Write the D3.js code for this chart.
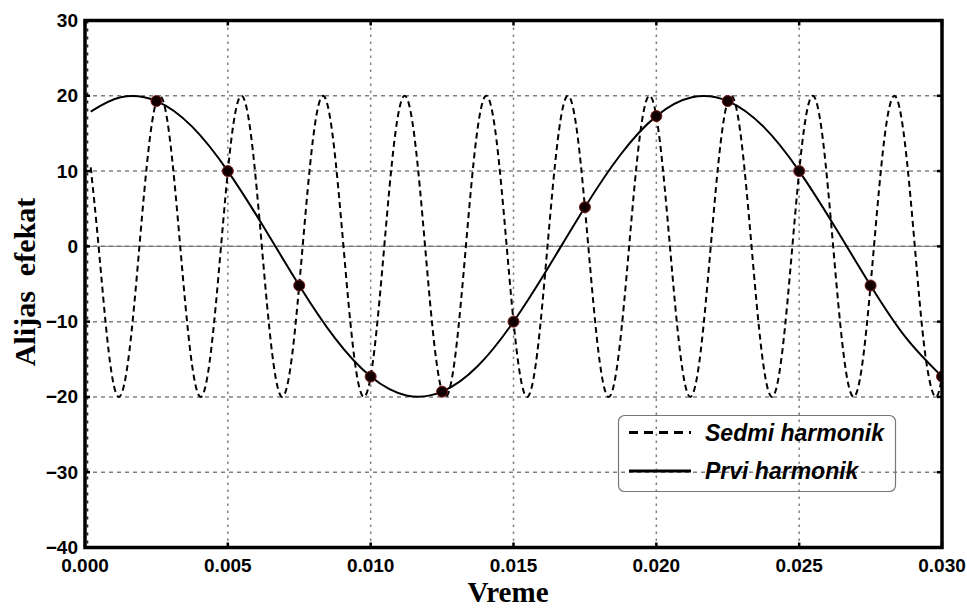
<!DOCTYPE html>
<html>
<head>
<meta charset="utf-8">
<script src="https://cdn.jsdelivr.net/npm/d3@7"></script>
<style>
  body { margin: 0; background: #fff; }
  svg { display: block; }
</style>
</head>
<body>
<svg id="chart" width="967" height="609"></svg>
<script>
// axis ticks
var xTicks = [0, 0.005, 0.010, 0.015, 0.020, 0.025, 0.030];
var yTicks = [-40, -30, -20, -10, 0, 10, 20, 30];

// first harmonic (solid)
var firstT = [0.0002, 0.00125, 0.0025, 0.00375, 0.005, 0.00625, 0.0075, 0.00875,
              0.010, 0.01125, 0.0125, 0.01375, 0.015, 0.01625, 0.0175, 0.01875,
              0.020, 0.02125, 0.0225, 0.02375, 0.025, 0.02625, 0.0275, 0.02875, 0.030];
var firstV = [17.9, 19.8, 19.3, 15.9, 10.0, 2.6, -5.2, -12.2,
              -17.3, -19.8, -19.3, -15.9, -10.0, -2.6, 5.2, 12.2,
              17.3, 19.8, 19.3, 15.9, 10.0, 2.6, -5.2, -12.2, -17.3];

// seventh harmonic (dashed), peaks / zeros / half points
var seventhT = [0.0002,
  0.000476, 0.000833, 0.00119,  0.001548, 0.001905, 0.002262, 0.002619, 0.002976,
  0.003333, 0.00369,  0.004048, 0.004405, 0.004762, 0.005119, 0.005476, 0.005833,
  0.00619,  0.006548, 0.006905, 0.007262, 0.007619, 0.007976, 0.008333, 0.00869,
  0.009048, 0.009405, 0.009762, 0.010119, 0.010476, 0.010833, 0.01119,  0.011548,
  0.011905, 0.012262, 0.012619, 0.012976, 0.013333, 0.01369,  0.014048, 0.014405,
  0.014762, 0.015119, 0.015476, 0.015833, 0.01619,  0.016548, 0.016905, 0.017262,
  0.017619, 0.017976, 0.018333, 0.01869,  0.019048, 0.019405, 0.019762, 0.020119,
  0.020476, 0.020833, 0.02119,  0.021548, 0.021905, 0.022262, 0.022619, 0.022976,
  0.023333, 0.02369,  0.024048, 0.024405, 0.024762, 0.025119, 0.025476, 0.025833,
  0.02619,  0.026548, 0.026905, 0.027262, 0.027619, 0.027976, 0.028333, 0.02869,
  0.029048, 0.029405, 0.029762,
  0.030];
var seventhV = [10.5,
  0, -14.1, -20, -14.1, 0, 14.1, 20, 14.1,
  0, -14.1, -20, -14.1, 0, 14.1, 20, 14.1,
  0, -14.1, -20, -14.1, 0, 14.1, 20, 14.1,
  0, -14.1, -20, -14.1, 0, 14.1, 20, 14.1,
  0, -14.1, -20, -14.1, 0, 14.1, 20, 14.1,
  0, -14.1, -20, -14.1, 0, 14.1, 20, 14.1,
  0, -14.1, -20, -14.1, 0, 14.1, 20, 14.1,
  0, -14.1, -20, -14.1, 0, 14.1, 20, 14.1,
  0, -14.1, -20, -14.1, 0, 14.1, 20, 14.1,
  0, -14.1, -20, -14.1, 0, 14.1, 20, 14.1,
  0, -14.1, -20,
  -17.3];

// sampled points (dots)
var sampleT = [0.0025, 0.005, 0.0075, 0.010, 0.0125, 0.015, 0.0175, 0.020, 0.0225, 0.025, 0.0275, 0.030];
var sampleV = [19.3, 10.0, -5.2, -17.3, -19.3, -10.0, 5.2, 17.3, 19.3, 10.0, -5.2, -17.3];

var seriesNames = ["Sedmi harmonik", "Prvi harmonik"];

var pLeft = 85, pRight = 942, pTop = 20.5, pBottom = 547.5;

var svg = d3.select("#chart");

var x = d3.scaleLinear().domain([0, 0.030]).range([pLeft, pRight]);
var y = d3.scaleLinear().domain([-40, 30]).range([pBottom, pTop]);

svg.append("defs").append("clipPath")
    .attr("id", "plotclip")
    .append("rect")
    .attr("x", pLeft).attr("y", pTop)
    .attr("width", pRight - pLeft).attr("height", pBottom - pTop);

// grid
var grid = svg.append("g");
grid.selectAll("line.vg")
    .data(xTicks)
    .enter().append("line")
    .attr("class", "vg")
    .attr("x1", function(d) { return x(d); })
    .attr("x2", function(d) { return x(d); })
    .attr("y1", pTop).attr("y2", pBottom)
    .style("stroke", "#808080")
    .style("stroke-width", 1.5)
    .style("stroke-dasharray", "2.5,4.5");

grid.selectAll("line.hg")
    .data(yTicks)
    .enter().append("line")
    .attr("class", "hg")
    .attr("x1", pLeft).attr("x2", pRight)
    .attr("y1", function(d) { return y(d); })
    .attr("y2", function(d) { return y(d); })
    .style("stroke", "#808080")
    .style("stroke-width", 1.5)
    .style("stroke-dasharray", "4,4");

// darker dotted strip along the left frame
svg.append("line")
    .attr("x1", pLeft + 2.5).attr("x2", pLeft + 2.5)
    .attr("y1", pTop).attr("y2", pBottom)
    .style("stroke", "#222")
    .style("stroke-width", 1.6)
    .style("stroke-dasharray", "3,5");

// zero line
svg.append("line")
    .attr("x1", pLeft).attr("x2", pRight)
    .attr("y1", y(0)).attr("y2", y(0))
    .style("stroke", "#777")
    .style("stroke-width", 1);

var plot = svg.append("g").attr("clip-path", "url(#plotclip)");

var line = d3.line()
    .x(function(d) { return x(d[0]); })
    .y(function(d) { return y(d[1]); })
    .curve(d3.curveNatural);

plot.append("path")
    .datum(d3.zip(seventhT, seventhV))
    .attr("d", line)
    .style("fill", "none")
    .style("stroke", "#000")
    .style("stroke-width", 2)
    .style("stroke-dasharray", "6,4");

plot.append("path")
    .datum(d3.zip(firstT, firstV))
    .attr("d", line)
    .style("fill", "none")
    .style("stroke", "#000")
    .style("stroke-width", 2);

plot.selectAll("circle")
    .data(d3.zip(sampleT, sampleV))
    .enter().append("circle")
    .attr("cx", function(d) { return x(d[0]); })
    .attr("cy", function(d) { return y(d[1]); })
    .attr("r", 5.5)
    .style("fill", "#120000")
    .style("stroke", "#7a1a1a")
    .style("stroke-width", 1);

// legend (transparent, grid shows through)
var legend = svg.append("g");
legend.append("rect")
    .attr("x", 618.5).attr("y", 415.5)
    .attr("width", 277).attr("height", 76)
    .attr("rx", 6).attr("ry", 6)
    .style("fill", "none")
    .style("stroke", "#777")
    .style("stroke-width", 1.2);

var legY = [432.5, 471];
legend.selectAll("line")
    .data(seriesNames)
    .enter().append("line")
    .attr("x1", 629).attr("x2", 691)
    .attr("y1", function(d, i) { return legY[i]; })
    .attr("y2", function(d, i) { return legY[i]; })
    .style("stroke", "#000")
    .style("stroke-width", 2.8)
    .style("stroke-dasharray", function(d, i) { return i === 0 ? "9,6" : null; });

legend.selectAll("text")
    .data(seriesNames)
    .enter().append("text")
    .attr("x", 705)
    .attr("y", function(d, i) { return legY[i] + 8; })
    .style("font-family", "'Liberation Sans', Arial, sans-serif")
    .style("font-weight", "bold")
    .style("font-style", "italic")
    .style("font-size", "23px")
    .style("fill", "#000")
    .text(function(d) { return d; });

// frame
svg.append("rect")
    .attr("x", pLeft).attr("y", pTop)
    .attr("width", pRight - pLeft).attr("height", pBottom - pTop)
    .style("fill", "none")
    .style("stroke", "#000")
    .style("stroke-width", 3.5);

// small inward ticks on the frame
var ticks = svg.append("g");
xTicks.forEach(function(d) {
    ticks.append("line").attr("x1", x(d)).attr("x2", x(d))
        .attr("y1", pBottom).attr("y2", pBottom - 5)
        .style("stroke", "#000").style("stroke-width", 2.5);
    ticks.append("line").attr("x1", x(d)).attr("x2", x(d))
        .attr("y1", pTop).attr("y2", pTop + 5)
        .style("stroke", "#000").style("stroke-width", 2.5);
});
yTicks.forEach(function(d) {
    ticks.append("line").attr("x1", pLeft).attr("x2", pLeft + 5)
        .attr("y1", y(d)).attr("y2", y(d))
        .style("stroke", "#000").style("stroke-width", 2.5);
    ticks.append("line").attr("x1", pRight).attr("x2", pRight - 5)
        .attr("y1", y(d)).attr("y2", y(d))
        .style("stroke", "#000").style("stroke-width", 2.5);
});

// tick labels
var fmtX = d3.format(".3f");
var fmtY = d3.format("d");

svg.append("g").selectAll("text")
    .data(xTicks)
    .enter().append("text")
    .attr("x", function(d) { return x(d); })
    .attr("y", 572)
    .attr("text-anchor", "middle")
    .style("font-family", "'Liberation Sans', Arial, sans-serif")
    .style("font-weight", "bold")
    .style("font-size", "19px")
    .text(function(d) { return fmtX(d); });

svg.append("g").selectAll("text")
    .data(yTicks)
    .enter().append("text")
    .attr("x", 78)
    .attr("y", function(d) { return y(d); })
    .attr("dy", "0.34em")
    .attr("text-anchor", "end")
    .style("font-family", "'Liberation Sans', Arial, sans-serif")
    .style("font-weight", "bold")
    .style("font-size", "19px")
    .text(function(d) { return fmtY(d); });

// axis titles
svg.append("text")
    .attr("x", 508)
    .attr("y", 602)
    .attr("text-anchor", "middle")
    .style("font-family", "'Liberation Serif', 'Times New Roman', serif")
    .style("font-weight", "bold")
    .style("font-size", "29px")
    .text("Vreme");

svg.append("text")
    .attr("transform", "translate(35,282) rotate(-90)")
    .attr("text-anchor", "middle")
    .style("font-family", "'Liberation Serif', 'Times New Roman', serif")
    .style("font-weight", "bold")
    .style("font-size", "30px")
    .style("white-space", "pre")
    .text("Alijas  efekat");
</script>
</body>
</html>
